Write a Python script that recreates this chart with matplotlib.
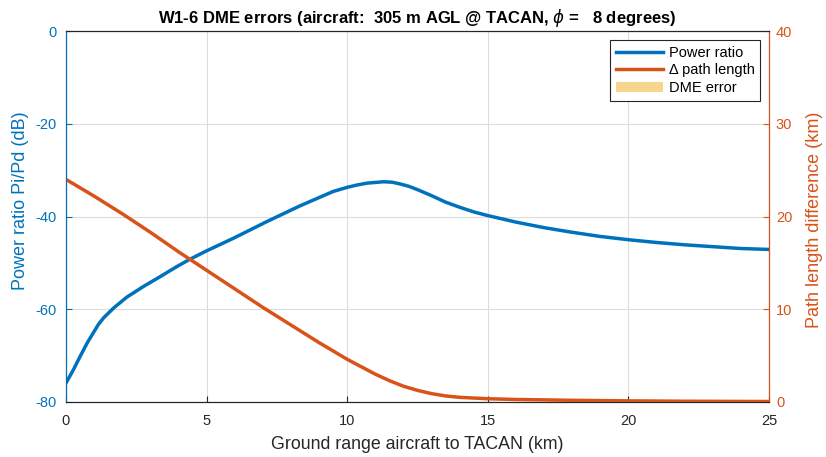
import numpy as np
import matplotlib.pyplot as plt
from matplotlib.patches import Patch

plt.rcParams['font.family'] = ['Liberation Sans', 'DejaVu Sans']
plt.rcParams['mathtext.fontset'] = 'dejavusans'
plt.rcParams['axes.unicode_minus'] = False

# power ratio Pi/Pd (dB) vs ground range (km)
range_pr = [0, 0.25, 0.5, 0.75, 1.0, 1.15, 1.33, 1.7, 2.16, 2.75, 3.34, 3.94, 4.41, 5.0, 5.95,
            7.14, 8.32, 9.5, 10.0, 10.35, 10.7, 11.3, 11.6, 11.9, 12.2, 12.5, 13.0, 13.5,
            14.0, 14.5, 15.0, 16.0, 17.0, 18.0, 19.0, 20.0, 21.0, 22.0, 23.0, 24.0, 25.0]
power_ratio = [-75.9, -73.2, -70.2, -67.3, -64.8, -63.3, -61.9, -59.7, -57.4, -55.1, -53.0,
               -50.8, -49.2, -47.4, -44.7, -41.1, -37.7, -34.6, -33.7, -33.2, -32.8, -32.5,
               -32.6, -33.0, -33.5, -34.2, -35.5, -36.9, -38.0, -39.0, -39.8, -41.2, -42.4,
               -43.4, -44.3, -45.0, -45.6, -46.1, -46.5, -46.9, -47.1]

# path length difference (km)
range_pl = [0, 1, 2, 3, 4, 5, 6, 7, 8, 9, 10, 10.5, 11, 11.5, 12, 12.5, 13, 13.5, 14, 15,
            16, 18, 20, 22, 25]
path_diff = [24.0, 22.2, 20.3, 18.3, 16.2, 14.2, 12.2, 10.2, 8.3, 6.4, 4.6, 3.8, 3.0, 2.3,
             1.7, 1.25, 0.9, 0.65, 0.5, 0.35, 0.27, 0.18, 0.12, 0.08, 0.05]

blue = '#0072BD'
orange = '#D95319'

fig = plt.figure(figsize=(8.26, 4.57), dpi=100)
ax = fig.add_axes([0.0799, 0.1204, 0.8511, 0.8116])
ax2 = ax.twinx()

l1, = ax.plot(range_pr, power_ratio, color=blue, lw=2.5)
l2, = ax2.plot(range_pl, path_diff, color=orange, lw=2.5)

ax.set_xlim(0, 25)
ax.set_ylim(-80, 0)
ax2.set_ylim(0, 40)
ax.set_xticks([0, 5, 10, 15, 20, 25])
ax.set_yticks([-80, -60, -40, -20, 0])
ax2.set_yticks([0, 10, 20, 30, 40])

ax.grid(True, color='#dcdcdc', lw=0.8)
ax.tick_params(direction='in', labelsize=10.5, length=4, colors='#262626')
ax.tick_params(axis='x', pad=9)
ax.tick_params(axis='y', colors=blue, pad=7)
ax2.tick_params(direction='in', labelsize=10.5, length=4, colors=orange, pad=5)

for s in ['top', 'bottom']:
    ax2.spines[s].set_color('#262626')
ax2.spines['left'].set_color(blue)
ax2.spines['right'].set_color(orange)
for sp in ax2.spines.values():
    sp.set_linewidth(0.8)

ax.set_xlabel('Ground range aircraft to TACAN (km)', fontsize=12.8, color='#262626')
ax.xaxis.set_label_coords(0.5, -0.092)
ax.set_ylabel('Power ratio Pi/Pd (dB)', fontsize=13, color=blue)
ax.yaxis.set_label_coords(-0.052, 0.542)
ax2.set_ylabel('Path length difference (km)', fontsize=13, color=orange)
ax2.yaxis.set_label_coords(1.053, 0.49)
ax.set_title(r'W1-6 DME errors (aircraft:  305 m AGL @ TACAN, $\phi$ =   8 degrees)',
             fontsize=12, fontweight='bold', pad=6)

dme = Patch(facecolor='#F6D68C', edgecolor='none')
leg = ax2.legend([l1, l2, dme], ['Power ratio', '\u0394 path length', 'DME error'],
                 loc='upper right', fontsize=10.5, fancybox=False, framealpha=1,
                 edgecolor='#262626', borderaxespad=0.6, handlelength=3.2,
                 handletextpad=0.4, labelspacing=0.25, borderpad=0.4)
leg.get_frame().set_linewidth(0.8)

fig.savefig('out.png', dpi=100)
